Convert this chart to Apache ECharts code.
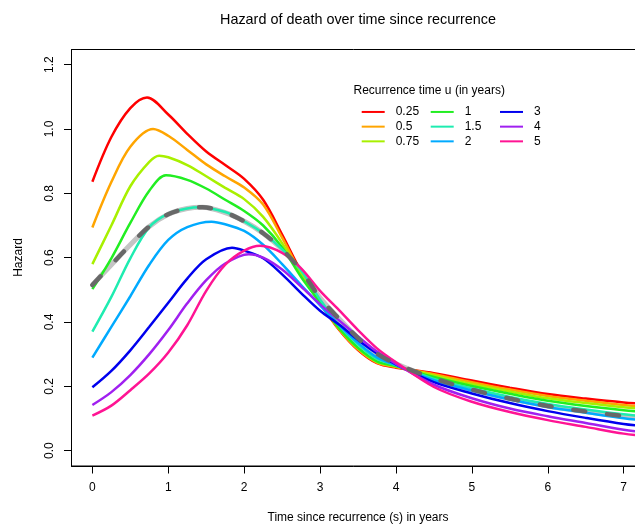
<!DOCTYPE html>
<html><head><meta charset="utf-8">
<script src="https://cdn.jsdelivr.net/npm/echarts@6/dist/echarts.min.js"></script>
<style>html,body{margin:0;padding:0;background:#fff}#c{width:635px;height:527px}</style>
</head><body><div id="c"></div>
<script>
// time since recurrence (years)
const xs = [0, 0.25, 0.5, 0.75, 1, 1.25, 1.5, 1.75, 2, 2.25, 2.5, 2.75, 3, 3.25, 3.5, 3.75, 4, 4.5, 5, 5.5, 6, 6.5, 7, 7.3];
// hazard per recurrence time u (read at xs)
const h025 = [0.836, 0.975, 1.065, 1.097, 1.045, 0.985, 0.93, 0.888, 0.845, 0.78, 0.672, 0.557, 0.46, 0.376, 0.313, 0.272, 0.258, 0.241, 0.218, 0.196, 0.176, 0.162, 0.150, 0.145];
const h05  = [0.694, 0.835, 0.945, 0.997, 0.979, 0.935, 0.89, 0.853, 0.818, 0.765, 0.662, 0.552, 0.46, 0.378, 0.315, 0.274, 0.260, 0.238, 0.213, 0.19, 0.170, 0.155, 0.142, 0.137];
const h075 = [0.58, 0.70, 0.822, 0.898, 0.912, 0.888, 0.853, 0.817, 0.782, 0.727, 0.645, 0.547, 0.46, 0.38, 0.318, 0.276, 0.262, 0.234, 0.207, 0.184, 0.163, 0.148, 0.135, 0.130];
const h1   = [0.502, 0.598, 0.708, 0.808, 0.855, 0.842, 0.815, 0.78, 0.745, 0.70, 0.632, 0.54, 0.46, 0.381, 0.32, 0.278, 0.263, 0.229, 0.201, 0.177, 0.155, 0.139, 0.126, 0.120];
const h15  = [0.37, 0.478, 0.598, 0.695, 0.737, 0.753, 0.755, 0.742, 0.713, 0.676, 0.626, 0.56, 0.47, 0.39, 0.33, 0.285, 0.266, 0.223, 0.194, 0.167, 0.145, 0.128, 0.113, 0.107];
const h2   = [0.289, 0.385, 0.48, 0.578, 0.655, 0.695, 0.711, 0.704, 0.683, 0.64, 0.58, 0.515, 0.452, 0.39, 0.335, 0.29, 0.266, 0.219, 0.187, 0.159, 0.136, 0.118, 0.101, 0.094];
const h3   = [0.197, 0.248, 0.312, 0.385, 0.46, 0.535, 0.595, 0.627, 0.622, 0.598, 0.548, 0.49, 0.435, 0.392, 0.344, 0.302, 0.268, 0.213, 0.178, 0.148, 0.123, 0.102, 0.083, 0.075];
const h4   = [0.142, 0.182, 0.235, 0.30, 0.375, 0.458, 0.53, 0.582, 0.608, 0.60, 0.563, 0.51, 0.455, 0.405, 0.355, 0.308, 0.270, 0.205, 0.163, 0.131, 0.107, 0.086, 0.065, 0.057];
const h5   = [0.109, 0.14, 0.188, 0.24, 0.305, 0.39, 0.497, 0.578, 0.622, 0.637, 0.615, 0.567, 0.497, 0.437, 0.375, 0.318, 0.275, 0.198, 0.152, 0.120, 0.095, 0.074, 0.053, 0.045];
// reference (grey) curve
const hRef = [0.515, 0.578, 0.64, 0.697, 0.735, 0.753, 0.756, 0.74, 0.713, 0.676, 0.626, 0.56, 0.475, 0.41, 0.35, 0.302, 0.27, 0.225, 0.19, 0.162, 0.139, 0.122, 0.108, 0.103];

// peak position and height of each curve
const peakX = [0.72, 0.80, 0.88, 0.97, 1.40, 1.57, 1.84, 2.06, 2.21];
const peakY = [1.098, 1.000, 0.917, 0.856, 0.757, 0.712, 0.631, 0.611, 0.637];
const refPeakX = 1.45;
const refPeakY = 0.757;

const seriesNames = ['0.25', '0.5', '0.75', '1', '1.5', '2', '3', '4', '5'];
const seriesValues = [h025, h05, h075, h1, h15, h2, h3, h4, h5];
const colors = ['#FF0000', '#FFA500', '#A8F000', '#22EE22', '#1EECB0', '#00AAFF', '#0000EE', '#A020F0', '#FF1493'];
const xTicks = [0, 1, 2, 3, 4, 5, 6, 7];
const yTicks = [0, 0.2, 0.4, 0.6, 0.8, 1.0, 1.2];

const FONT = 'Liberation Sans, Arial, Helvetica, sans-serif';
const SMOOTH = 0.33;
function buildPairs(ys, pkx, pky) {
  const pts = [];
  xs.forEach((x, i) => { if (Math.abs(x - pkx) > 0.11) pts.push([x, ys[i]]); });
  pts.push([pkx, pky]);
  pts.sort((a, b) => a[0] - b[0]);
  return pts;
}

const series = [];
series.push({ name: 'refBg', type: 'line', data: buildPairs(hRef, refPeakX, refPeakY), smooth: SMOOTH, showSymbol: false, symbol: 'none',
  lineStyle: { color: '#C4C4C4', width: 5 }, silent: true });
seriesNames.forEach((n, i) => {
  series.push({ name: n, type: 'line', data: buildPairs(seriesValues[i], peakX[i], peakY[i]), smooth: SMOOTH, showSymbol: false, symbol: 'none',
    color: colors[i], lineStyle: { color: colors[i], width: 2.5 } });
});
series.push({ name: 'refDash', type: 'line', data: buildPairs(hRef, refPeakX, refPeakY), smooth: SMOOTH, showSymbol: false, symbol: 'none',
  lineStyle: { color: '#686868', width: 4.5, type: [12, 22], cap: 'round' }, silent: true });

const legendCommon = {
  orient: 'vertical', icon: 'rect', itemWidth: 23, itemHeight: 2, itemGap: 0, padding: 0,
  selectedMode: false, top: 104.6,
  textStyle: { fontSize: 12, color: '#000', lineHeight: 14.7, padding: [0, 0, 0, 6], fontFamily: FONT }
};

const txt = (text, x, y, size, rot) => ({
  type: 'text', x: x, y: y, rotation: rot || 0, silent: true,
  style: { text: text, fill: '#000', fontSize: size, fontFamily: FONT,
    align: 'center', verticalAlign: 'middle', textAlign: 'center', textVerticalAlign: 'middle' }
});

const option = {
  animation: false,
  backgroundColor: '#fff',
  grid: { left: 71.5, top: 49.5, right: -10.3, bottom: 61, show: true, borderColor: '#000', borderWidth: 1,
    backgroundColor: 'transparent', containLabel: false, outerBoundsMode: 'none' },
  xAxis: {
    type: 'value', min: -0.275, max: 7.285,
    axisLine: { show: true, onZero: false, lineStyle: { color: '#000', width: 1 } },
    axisTick: { show: true, customValues: xTicks, length: 7.5, lineStyle: { color: '#000' } },
    axisLabel: { customValues: xTicks, margin: 16, fontSize: 12, color: '#000', fontFamily: FONT },
    splitLine: { show: false }
  },
  yAxis: {
    type: 'value', min: -0.0476, max: 1.2471,
    axisLine: { show: true, onZero: false, lineStyle: { color: '#000', width: 1 } },
    axisTick: { show: true, customValues: yTicks, length: 7.5, lineStyle: { color: '#000' } },
    axisLabel: { customValues: yTicks, rotate: 90, margin: 16, fontSize: 12, color: '#000', fontFamily: FONT,
      formatter: v => Number(v).toFixed(1) },
    splitLine: { show: false }
  },
  legend: [
    Object.assign({}, legendCommon, { left: 361.7, data: seriesNames.slice(0, 3) }),
    Object.assign({}, legendCommon, { left: 430.7, data: seriesNames.slice(3, 6) }),
    Object.assign({}, legendCommon, { left: 500, data: seriesNames.slice(6, 9) })
  ],
  graphic: [
    txt('Hazard of death over time since recurrence', 358, 20, 14.4),
    txt('Time since recurrence (s) in years', 358, 518, 12),
    txt('Hazard', 19, 257.5, 12, Math.PI / 2),
    txt('Recurrence time u (in years)', 429.2, 90.7, 12)
  ],
  series: series
};

const chart = echarts.init(document.getElementById('c'), null, { renderer: 'canvas' });
chart.setOption(option);
</script>
</body></html>
